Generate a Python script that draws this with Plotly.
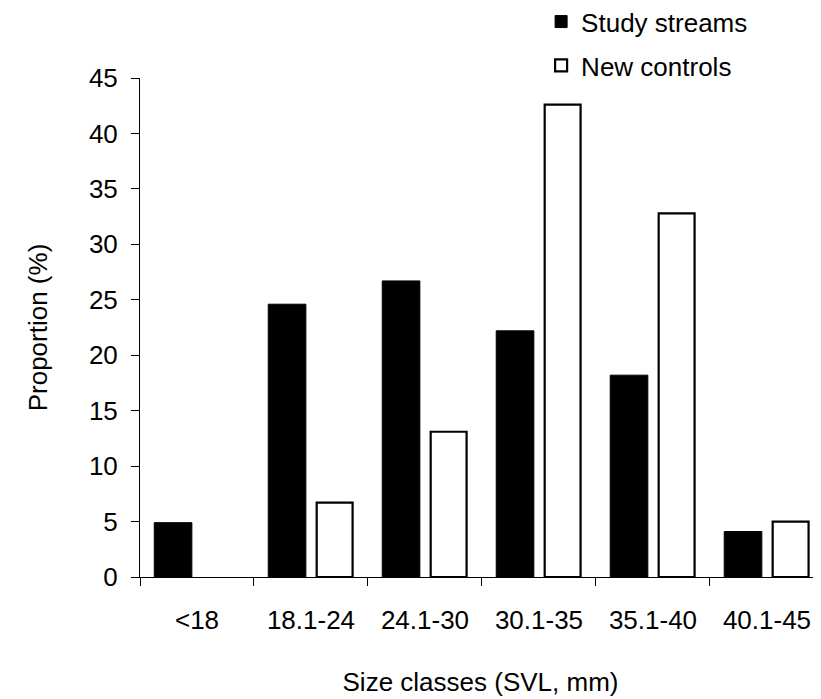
import plotly.graph_objects as go

categories = ["<18", "18.1-24", "24.1-30", "30.1-35", "35.1-40", "40.1-45"]
study_streams = [4.9, 24.6, 26.7, 22.2, 18.2, 4.1]
new_controls = [None, 6.7, 13.1, 42.6, 32.8, 5.0]
y_ticks = [0, 5, 10, 15, 20, 25, 30, 35, 40, 45]

FONT = "Liberation Sans, Arial, sans-serif"

fig = go.Figure()
fig.add_trace(go.Bar(
    x=categories, y=study_streams, name="Study streams",
    width=0.33, offset=-0.375,
    marker=dict(color="black", line=dict(color="black", width=1)),
    legendgroup="a",
))
fig.add_trace(go.Bar(
    x=categories, y=new_controls, name="New controls",
    width=0.315, offset=0.05,
    marker=dict(color="white", line=dict(color="black", width=2.2)),
    legendgroup="b",
))

fig.update_layout(
    width=821, height=699, autosize=False,
    margin=dict(l=132, r=8, t=70, b=130, autoexpand=False),
    plot_bgcolor="white", paper_bgcolor="white",
    font=dict(family=FONT, size=26, color="black"),
    showlegend=True,
    legend=dict(
        xref="paper", yref="paper",
        x=0.589, y=1.160, xanchor="left", yanchor="top",
        traceorder="grouped", tracegroupgap=7,
        font=dict(size=26, family=FONT), bgcolor="rgba(0,0,0,0)",
    ),
    barmode="overlay",
)
fig.update_xaxes(
    type="category", range=[-0.5, 5.474], automargin=False,
    showline=True, linecolor="black", linewidth=1,
    ticks="outside", tickson="boundaries", ticklen=8, tickcolor="black",
    showgrid=False, zeroline=False,
    tickfont=dict(size=26), ticklabelstandoff=20,
    title=dict(text="Size classes (SVL, mm)", font=dict(size=26), standoff=38),
)
fig.update_yaxes(
    range=[0, 45], tickvals=y_ticks, automargin=False,
    showline=True, linecolor="black", linewidth=1,
    ticks="outside", ticklen=8, tickcolor="black",
    showgrid=False, zeroline=False,
    tickfont=dict(size=26), ticklabelstandoff=8,
    title=dict(text="Proportion (%)", font=dict(size=26), standoff=33),
)

fig.write_html("out.html")
